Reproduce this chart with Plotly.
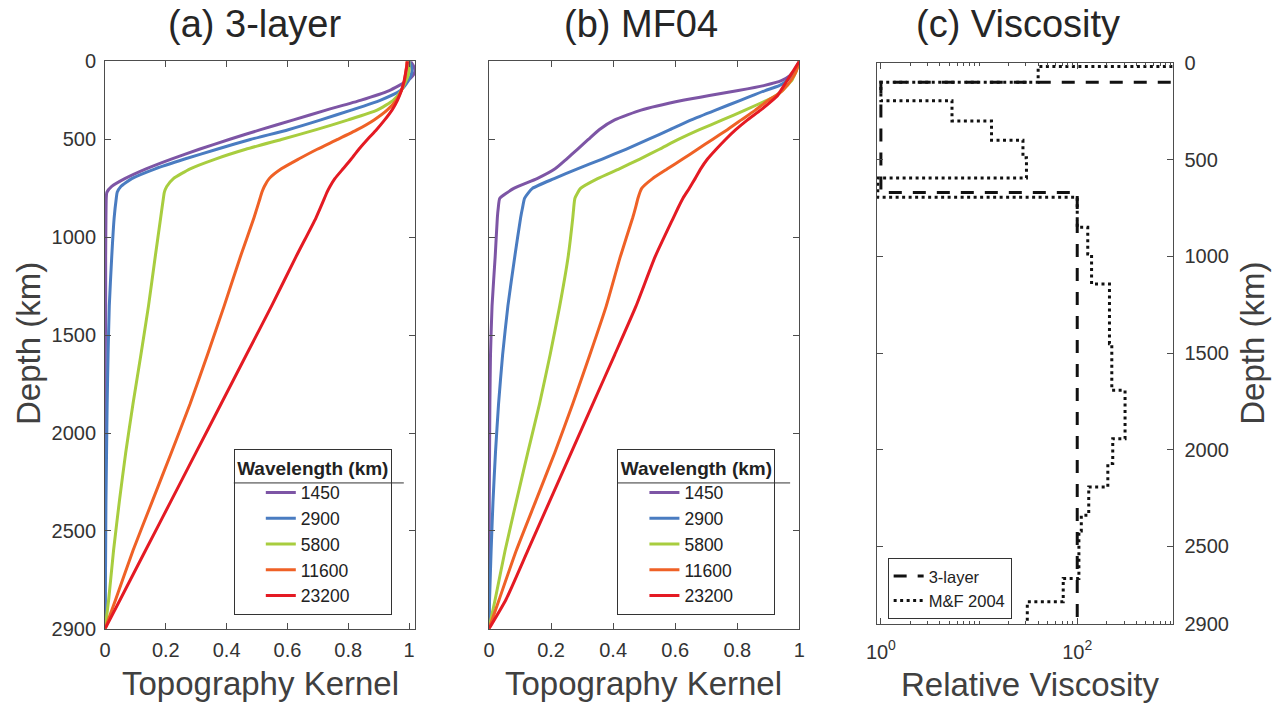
import plotly.graph_objects as go

# ---------------- data ----------------
wavelengths = ["1450", "2900", "5800", "11600", "23200"]
colors = ["#7D55A5", "#4A7CC1", "#A8CD3F", "#EF6126", "#E41A23"]

# (a) 3-layer viscosity model: topography kernels vs depth (km)
depth_a = [0, 25, 50, 75, 100, 150, 200, 250, 300, 350, 400, 450, 500, 550, 600,
           640, 670, 700, 800, 1000, 1250, 1500, 1750, 2000, 2250, 2500, 2750, 2900]
kernel_a_1450 = [1.005, 1.015, 1.02, 1.012, 0.995, 0.935, 0.84, 0.727, 0.62, 0.512, 0.408,
                 0.31, 0.218, 0.135, 0.065, 0.022, 0.006, 0.004, 0.003, 0.002, 0.002,
                 0.001, 0.001, 0.001, 0.001, 0.0, 0.0, 0.0]
kernel_a_2900 = [1.0, 1.008, 1.01, 1.006, 0.998, 0.972, 0.905, 0.81, 0.71, 0.603, 0.478,
                 0.368, 0.262, 0.165, 0.088, 0.052, 0.04, 0.037, 0.03, 0.022, 0.014,
                 0.01, 0.007, 0.005, 0.003, 0.002, 0.001, 0.0]
kernel_a_5800 = [1.0, 1.0, 1.0, 0.997, 0.99, 0.975, 0.948, 0.895, 0.8, 0.695, 0.58,
                 0.463, 0.363, 0.28, 0.225, 0.203, 0.195, 0.192, 0.183, 0.165, 0.143,
                 0.118, 0.092, 0.068, 0.047, 0.028, 0.012, 0.0]
kernel_a_11600 = [0.993, 0.992, 0.99, 0.988, 0.985, 0.975, 0.958, 0.928, 0.885, 0.83, 0.765,
                  0.698, 0.637, 0.58, 0.54, 0.524, 0.516, 0.51, 0.49, 0.445, 0.392,
                  0.337, 0.28, 0.218, 0.155, 0.092, 0.035, 0.0]
kernel_a_23200 = [0.995, 0.993, 0.99, 0.987, 0.984, 0.975, 0.962, 0.944, 0.92, 0.893, 0.863,
                  0.835, 0.81, 0.783, 0.756, 0.74, 0.73, 0.722, 0.694, 0.628, 0.548,
                  0.465, 0.382, 0.299, 0.216, 0.133, 0.05, 0.0]

# (b) MF04 viscosity model
depth_b = [0, 25, 50, 75, 100, 125, 150, 175, 200, 250, 300, 350, 400, 450, 500, 550,
           600, 650, 700, 750, 800, 1000, 1250, 1500, 1750, 2000, 2250, 2500, 2750, 2900]
kernel_b_1450 = [1.0, 0.992, 0.983, 0.968, 0.942, 0.885, 0.803, 0.71, 0.625, 0.49, 0.405,
                 0.355, 0.32, 0.285, 0.25, 0.213, 0.155, 0.08, 0.035, 0.03, 0.027, 0.02,
                 0.01, 0.005, 0.003, 0.002, 0.001, 0.001, 0.0, 0.0]
kernel_b_2900 = [1.0, 0.993, 0.984, 0.973, 0.96, 0.935, 0.89, 0.85, 0.81, 0.73, 0.652,
                 0.583, 0.513, 0.441, 0.365, 0.285, 0.21, 0.14, 0.115, 0.108, 0.102, 0.083,
                 0.061, 0.044, 0.031, 0.021, 0.013, 0.007, 0.002, 0.0]
kernel_b_5800 = [1.0, 0.995, 0.99, 0.983, 0.975, 0.96, 0.945, 0.925, 0.895, 0.825, 0.752,
                 0.678, 0.61, 0.549, 0.486, 0.42, 0.35, 0.295, 0.277, 0.273, 0.27, 0.255,
                 0.228, 0.197, 0.163, 0.125, 0.088, 0.052, 0.02, 0.0]
kernel_b_11600 = [1.0, 0.995, 0.99, 0.982, 0.972, 0.96, 0.945, 0.925, 0.9, 0.858, 0.813,
                  0.768, 0.72, 0.672, 0.624, 0.575, 0.527, 0.492, 0.48, 0.472, 0.463, 0.423,
                  0.378, 0.325, 0.27, 0.212, 0.15, 0.088, 0.033, 0.0]
kernel_b_23200 = [1.0, 0.99, 0.98, 0.97, 0.96, 0.95, 0.94, 0.93, 0.913, 0.875, 0.833,
                  0.795, 0.762, 0.732, 0.704, 0.682, 0.664, 0.645, 0.625, 0.609, 0.594, 0.535,
                  0.474, 0.405, 0.335, 0.265, 0.195, 0.125, 0.055, 0.0]

# (c) relative viscosity profiles: layer top depth (km) and value, last entry closes at the CMB
layer_top_3layer = [0, 100, 670, 2900]
visc_3layer = [1000, 1, 100, 100]

layer_top_mf04 = [0, 18, 100, 196, 300, 400, 490, 595, 695, 850, 988, 1143, 1452,
                  1693, 1943, 2072, 2193, 2339, 2420, 2666, 2786, 2900]
visc_mf04 = [1000, 40, 1, 5.3, 13.4, 28, 30.4, 0.93, 100, 128, 140, 213, 225,
             307, 230, 205, 131, 110, 104, 72, 31, 31]

# axis ticks
kernel_ticks = [0, 0.2, 0.4, 0.6, 0.8, 1]
depth_tick_pos_ab = [0, 400, 900, 1400, 1900, 2400, 2900]
depth_tick_pos_c = [0, 500, 1000, 1500, 2000, 2500, 2900]
depth_tick_text = ["0", "500", "1000", "1500", "2000", "2500", "2900"]
visc_major_ticks = [1, 100]
visc_major_text = ["10<sup>0</sup>", "10<sup>2</sup>"]
visc_minor_ticks = [m * 10 ** e for e in range(3) for m in range(2, 11)]

# ---------------- layout helpers ----------------
W, H = 1283, 720
# placement of the figure on the displayed page (body offset and display scale)
OX, SX = 8.5, 0.9885
OY, SY = 9.3, 0.970


def fx(px):
    """displayed x pixel -> paper fraction"""
    return ((px - OX) / SX) / W


def fy(py):
    """displayed y pixel (from top) -> paper fraction"""
    return 1 - ((py - OY) / SY) / H


FONT = "Liberation Sans, Arial, Helvetica, sans-serif"
AX = "#4d4d4d"
TXT = "#333333"

fig = go.Figure()

kern_a = [kernel_a_1450, kernel_a_2900, kernel_a_5800, kernel_a_11600, kernel_a_23200]
kern_b = [kernel_b_1450, kernel_b_2900, kernel_b_5800, kernel_b_11600, kernel_b_23200]

for name, col, k in zip(wavelengths, colors, kern_a):
    fig.add_trace(go.Scatter(x=k, y=depth_a, mode="lines", name=name,
                             line=dict(color=col, width=3, shape="spline", smoothing=0.5),
                             xaxis="x", yaxis="y", legend="legend"))
for name, col, k in zip(wavelengths, colors, kern_b):
    fig.add_trace(go.Scatter(x=k, y=depth_b, mode="lines", name=name,
                             line=dict(color=col, width=3, shape="spline", smoothing=0.5),
                             xaxis="x2", yaxis="y2", legend="legend2"))

fig.add_trace(go.Scatter(x=visc_3layer, y=layer_top_3layer, mode="lines", name="3-layer",
                         line=dict(color="#111111", width=3, dash="13px,11px", shape="vh"),
                         xaxis="x3", yaxis="y3", legend="legend3"))
fig.add_trace(go.Scatter(x=visc_mf04, y=layer_top_mf04, mode="lines", name="M&F 2004",
                         line=dict(color="#111111", width=3, dash="3px,3.5px", shape="vh"),
                         xaxis="x3", yaxis="y3", legend="legend3"))

dom_a = [fx(102.7), fx(413.3)]
dom_b = [fx(487.3), fx(798.3)]
dom_c = [fx(876.0), fx(1173.0)]
ydom_ab = [fy(627.5), fy(59.5)]
ydom_c = [fy(622.4), fy(61.25)]

common = dict(showline=True, linecolor=AX, linewidth=1, mirror="ticks", ticks="inside",
              ticklen=6, tickcolor=AX, tickwidth=1, showgrid=False, zeroline=False,
              tickfont=dict(family=FONT, size=20, color=TXT))

legend_style = dict(bgcolor="rgba(255,255,255,0)", bordercolor="#333333", borderwidth=1,
                    font=dict(family=FONT, size=17.5, color="#222222"),
                    xanchor="left", yanchor="top", tracegroupgap=0, indentation=26,
                    title=dict(text="<b>Wavelength (km)</b>", side="top center",
                               font=dict(family=FONT, size=19, color="#222222")))

fig.update_layout(
    width=W, height=H, margin=dict(l=0, r=0, t=0, b=0),
    paper_bgcolor="white", plot_bgcolor="white",
    font=dict(family=FONT, color=TXT),
    xaxis=dict(domain=dom_a, range=[0, 1.02], tickvals=kernel_ticks, anchor="y",
               ticklabelstandoff=3, **common),
    yaxis=dict(domain=ydom_ab, range=[2900, 0], tickvals=depth_tick_pos_ab,
               ticktext=depth_tick_text, anchor="x", ticklabelstandoff=4, **common),
    xaxis2=dict(domain=dom_b, range=[0, 1.0], tickvals=kernel_ticks, anchor="y2",
                ticklabelstandoff=3, **common),
    yaxis2=dict(domain=ydom_ab, range=[2900, 0], tickvals=depth_tick_pos_ab,
                showticklabels=False, anchor="x2", **common),
    xaxis3=dict(domain=dom_c, type="log", range=[-0.04, 2.98], tickvals=visc_major_ticks,
                ticktext=visc_major_text, anchor="y3", ticklabelstandoff=10,
                minor=dict(tickvals=visc_minor_ticks, ticks="inside", ticklen=3,
                           tickcolor=AX, showgrid=False),
                **common),
    yaxis3=dict(domain=ydom_c, range=[2900, 0], tickvals=depth_tick_pos_c,
                ticktext=depth_tick_text, side="right", anchor="x3",
                ticklabelstandoff=6, **common),
    legend=dict(x=fx(231.7), y=fy(447.5), **legend_style),
    legend2=dict(x=fx(616.0), y=fy(447.5), **legend_style),
    legend3=dict(x=fx(886.7), y=fy(556.5), bgcolor="white", bordercolor="#333333",
                 borderwidth=1, xanchor="left", yanchor="top", tracegroupgap=0,
                 font=dict(family=FONT, size=16.5, color="#222222")),
)

# separator under the legend headers
for x0, x1 in [(231.7, 402.0), (616.0, 789.0)]:
    fig.add_shape(type="line", xref="paper", yref="paper",
                  x0=fx(x0), x1=fx(x1), y0=fy(481.5), y1=fy(481.5),
                  line=dict(color="#333333", width=1))


def label(text, x, y, size, angle=0, color="#262626"):
    fig.add_annotation(text=text, x=fx(x), y=fy(y), xref="paper", yref="paper",
                       showarrow=False, xanchor="center", yanchor="middle",
                       textangle=angle, font=dict(family=FONT, size=size, color=color))


label("(a) 3-layer", 252, 22, 38)
label("(b) MF04", 640, 22, 38)
label("(c) Viscosity", 1017, 22, 38)
label("Topography Kernel", 258, 682, 33, color="#404040")
label("Topography Kernel", 642, 682, 33, color="#404040")
label("Relative Viscosity", 1029, 683, 33, color="#404040")
label("Depth (km)", 26, 342, 33, angle=-90, color="#404040")
label("Depth (km)", 1252, 342, 33, angle=-90, color="#404040")

fig.write_html("out.html")
